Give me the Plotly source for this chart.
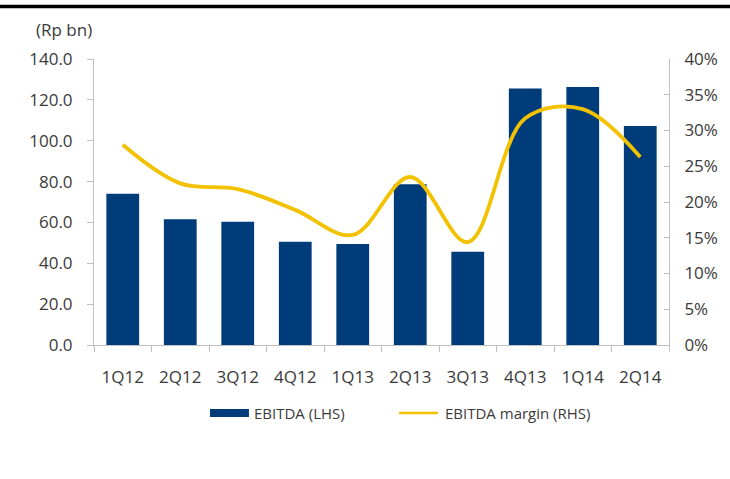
import plotly.graph_objects as go

quarters = ["1Q12", "2Q12", "3Q12", "4Q12", "1Q13", "2Q13", "3Q13", "4Q13", "1Q14", "2Q14"]
ebitda = [74.0, 61.6, 60.3, 50.5, 49.5, 78.7, 45.6, 125.6, 126.3, 107.2]
margin = [0.280, 0.226, 0.218, 0.189, 0.154, 0.235, 0.144, 0.317, 0.330, 0.263]

left_ticks = [0, 20, 40, 60, 80, 100, 120, 140]
right_ticks = [0, 0.05, 0.10, 0.15, 0.20, 0.25, 0.30, 0.35, 0.40]

W, H = 730, 479
L, R, T, B = 94, 46, 59, 134
pw, ph = W - L - R, H - T - B

def px(x):
    return (x - L) / pw

def py(y):
    return (H - B - y) / ph

FONT = "Open Sans"
TXT = "#3A3A3A"
BAR = "#003B7A"
LINE = "#F2C200"
AX = "#BFBFBF"

fig = go.Figure()
fig.add_trace(go.Bar(x=quarters, y=ebitda, name="EBITDA (LHS)",
                     marker=dict(color=BAR, line=dict(width=0)), yaxis="y"))
fig.add_trace(go.Scatter(x=quarters, y=margin, name="EBITDA margin (RHS)", mode="lines",
                         line=dict(color=LINE, width=3.8, shape="spline", smoothing=1.0),
                         yaxis="y2"))

fig.update_layout(
    width=W, height=H,
    margin=dict(l=L, r=R, t=T, b=B, pad=0),
    paper_bgcolor="white", plot_bgcolor="white",
    showlegend=False,
    bargap=0.43,
    font=dict(family=FONT, size=17, color=TXT),
    xaxis=dict(showgrid=False, showline=True, linecolor=AX, linewidth=1,
               ticks="outside", tickson="boundaries", ticklen=6, tickcolor=AX,
               tickfont=dict(size=17, color=TXT), ticklabelstandoff=17),
    yaxis=dict(range=[0, 140], tickvals=left_ticks, tickformat=".1f",
               showgrid=False, showline=True, linecolor=AX, linewidth=1,
               ticks="outside", ticklen=6, tickcolor=AX, zeroline=False,
               tickfont=dict(size=17, color=TXT), ticklabelstandoff=11),
    yaxis2=dict(range=[0, 0.40], tickvals=right_ticks, tickformat=".0%",
                overlaying="y", side="right",
                showgrid=False, showline=True, linecolor=AX, linewidth=1,
                ticks="inside", ticklen=5, tickcolor=AX, zeroline=False,
                tickfont=dict(size=17, color=TXT), ticklabelstandoff=11),
)

shapes = [
    dict(type="line", xref="paper", yref="paper", x0=px(-20), x1=px(W + 20), y0=py(6.5), y1=py(6.5),
         line=dict(color="black", width=3.5)),
    dict(type="rect", xref="paper", yref="paper", x0=px(213), x1=px(253), y0=py(409), y1=py(417),
         fillcolor=BAR, line=dict(width=0)),
    dict(type="line", xref="paper", yref="paper", x0=px(407), x1=px(447), y0=py(413), y1=py(413),
         line=dict(color=LINE, width=2.5)),
]
annotations = [
    dict(text="(Rp bn)", xref="paper", yref="paper", x=px(32), y=py(30), xanchor="left",
         yanchor="middle", showarrow=False, font=dict(size=17, color=TXT, family=FONT)),
    dict(text="EBITDA (LHS)", xref="paper", yref="paper", x=px(256), y=py(413), xanchor="left",
         yanchor="middle", showarrow=False, font=dict(size=15, color=TXT, family=FONT)),
    dict(text="EBITDA margin (RHS)", xref="paper", yref="paper", x=px(452), y=py(413), xanchor="left",
         yanchor="middle", showarrow=False, font=dict(size=15, color=TXT, family=FONT)),
]
fig.update_layout(shapes=shapes, annotations=annotations)

fig.write_html("out.html")
